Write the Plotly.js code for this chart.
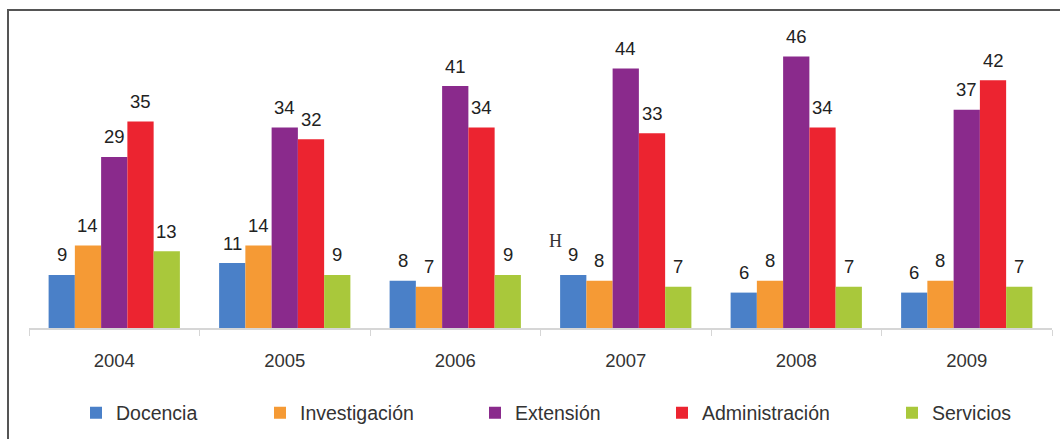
<!DOCTYPE html>
<html>
<head>
<meta charset="utf-8">
<script src="https://cdn.plot.ly/plotly-3.0.1.min.js"></script>
<style>html,body{margin:0;padding:0;background:#fff;}#chart{width:1060px;height:439px;}</style>
</head>
<body>
<div id="chart"></div>
<script>
const years = ['2004','2005','2006','2007','2008','2009'];
const seriesNames = ['Docencia','Investigación','Extensión','Administración','Servicios'];
const docencia = [9, 11, 8, 9, 6, 6];
const investigacion = [14, 14, 7, 8, 8, 8];
const extension = [29, 34, 41, 44, 46, 37];
const administracion = [35, 32, 34, 33, 34, 42];
const servicios = [13, 9, 9, 7, 7, 7];
const colors = ['#4a80c8', '#f59a35', '#8a2a8c', '#ec2430', '#a9c83b'];
const seriesValues = [docencia, investigacion, extension, administracion, servicios];

const W = 1060, H = 439;
const mL = 29, mR = 8, mT = 33, mB = 110;
const plotW = W - mL - mR, plotH = H - mT - mB;
const yMax = 50;
const bargap = 0.23;
const barW = (1 - bargap) / seriesNames.length;
const FONT = 'Liberation Sans, Arial, sans-serif';

const legendIds = ['legend', 'legend2', 'legend3', 'legend4', 'legend5'];
const legendPx = [76, 260, 475, 662, 892];

const traces = seriesNames.map((name, j) => ({
  type: 'bar',
  name: name,
  x: years,
  y: seriesValues[j],
  marker: {color: colors[j], line: {width: 0}},
  legend: legendIds[j],
  hoverinfo: 'x+y+name'
}));

const annotations = [];
seriesValues.forEach((vals, j) => {
  vals.forEach((v, i) => {
    annotations.push({
      x: i + (j - 2) * barW, y: v, xref: 'x', yref: 'y',
      text: String(v), showarrow: false, yshift: 20,
      font: {family: FONT, size: 18.5, color: '#222'}
    });
  });
});
// stray glyph in the reference near 2007 Docencia label
annotations.push({
  x: 3 + (0 - 2) * barW, y: docencia[3], xref: 'x', yref: 'y',
  text: 'H', showarrow: false, xshift: -18, yshift: 34,
  font: {family: 'Liberation Serif, DejaVu Serif, serif', size: 18, color: '#333'}
});

const layout = {
  width: W, height: H,
  margin: {l: mL, r: mR, t: mT, b: mB, pad: 0},
  paper_bgcolor: '#fff', plot_bgcolor: '#fff',
  barmode: 'group', bargap: bargap, bargroupgap: 0,
  xaxis: {
    type: 'category', range: [-0.5, 5.5], fixedrange: true,
    showline: true, linecolor: '#d6d6d6', linewidth: 1.5,
    ticks: 'outside', tickson: 'boundaries', ticklen: 6, tickcolor: '#d6d6d6', tickwidth: 1,
    showgrid: false, zeroline: false,
    ticklabelstandoff: 15,
    tickfont: {family: FONT, size: 18.5, color: '#333'}
  },
  yaxis: {
    range: [0, yMax], visible: false, showgrid: false, zeroline: false, fixedrange: true
  },
  annotations: annotations,
  shapes: [{
    type: 'rect', xref: 'paper', yref: 'paper',
    x0: (8 - mL) / plotW, x1: (W + 20 - mL) / plotW,
    y0: -(H + 20 - mT - plotH) / plotH, y1: (plotH + mT - 10) / plotH,
    line: {color: '#555', width: 2}, fillcolor: 'rgba(0,0,0,0)', layer: 'below'
  }],
  showlegend: true
};
legendIds.forEach((id, j) => {
  layout[id] = {
    orientation: 'h', x: (legendPx[j] - mL) / plotW, xanchor: 'left',
    y: (mT + plotH - 413) / plotH, yanchor: 'middle',
    bgcolor: 'rgba(0,0,0,0)', borderwidth: 0,
    font: {family: FONT, size: 19.5, color: '#333'}
  };
});

Plotly.newPlot('chart', traces, layout, {displayModeBar: false, staticPlot: true});
</script>
</body>
</html>
